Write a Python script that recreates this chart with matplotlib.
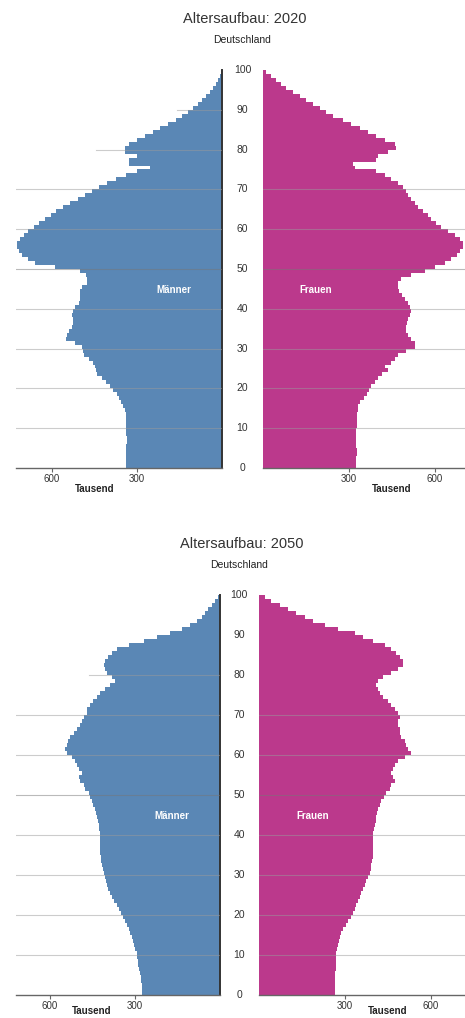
import matplotlib
matplotlib.use("Agg")
import matplotlib.pyplot as plt
import matplotlib.transforms as mtransforms
import numpy as np

plt.rcParams['font.family'] = ['Liberation Sans', 'DejaVu Sans']

ages = np.arange(100)
age_ticks = list(range(0, 101, 10))
x_ticks = [300, 600]
x_ticklabels = ['300', '600']

# Bevoelkerung je Altersjahr in Tausend
men_2020 = [338, 338, 339, 339, 338, 338, 337, 337, 338, 338,
            339, 339, 340, 340, 342, 348, 355, 362, 372, 385,
            395, 410, 425, 440, 445, 450, 455, 470, 488, 490,
            495, 520, 550, 548, 540, 530, 527, 525, 528, 526,
            520, 505, 500, 502, 500, 495, 478, 475, 480, 500,
            590, 660, 685, 705, 718, 725, 722, 712, 700, 685,
            665, 645, 625, 605, 585, 560, 535, 510, 485, 460,
            435, 405, 375, 340, 300, 254, 328, 328, 300, 342,
            342, 330, 300, 272, 245, 218, 190, 162, 140, 120,
            102, 85, 70, 55, 42, 32, 22, 14, 8, 4]
women_2020 = [326, 326, 326, 327, 327, 326, 326, 325, 326, 326,
              327, 327, 328, 329, 330, 331, 340, 352, 362, 370,
              378, 390, 401, 415, 436, 424, 448, 460, 471, 500,
              529, 529, 518, 506, 500, 500, 503, 506, 512, 518,
              512, 506, 495, 485, 475, 470, 472, 480, 518, 564,
              599, 634, 657, 675, 686, 698, 698, 686, 669, 645,
              622, 605, 587, 576, 558, 541, 529, 518, 506, 500,
              488, 471, 448, 424, 395, 320, 314, 395, 401, 436,
              465, 459, 424, 395, 366, 337, 308, 279, 244, 221,
              198, 174, 151, 128, 105, 81, 64, 46, 29, 12]
men_2050 = [274, 274, 274, 276, 278, 282, 284, 286, 289, 290,
            292, 297, 303, 306, 309, 315, 321, 327, 333, 340,
            348, 355, 362, 371, 380, 386, 392, 396, 400, 404,
            407, 411, 415, 417, 419, 421, 421, 421, 421, 421,
            421, 424, 427, 430, 433, 436, 439, 445, 450, 456,
            462, 474, 480, 492, 497, 486, 497, 503, 509, 521,
            539, 544, 539, 533, 527, 515, 503, 492, 486, 480,
            468, 466, 456, 445, 433, 421, 403, 386, 368, 380,
            397, 403, 409, 403, 392, 380, 362, 321, 268, 221,
            174, 133, 103, 80, 62, 51, 39, 27, 15, 7]
women_2050 = [264, 264, 265, 265, 266, 266, 267, 268, 269, 270,
              270, 273, 276, 279, 281, 287, 293, 302, 311, 320,
              328, 334, 340, 346, 351, 357, 363, 369, 374, 380,
              386, 389, 392, 394, 396, 398, 398, 398, 398, 398,
              398, 401, 404, 407, 409, 412, 415, 421, 427, 435,
              444, 456, 462, 473, 468, 462, 468, 473, 485, 508,
              531, 520, 514, 508, 497, 491, 491, 485, 485, 491,
              485, 473, 462, 450, 433, 421, 415, 409, 415, 433,
              462, 485, 502, 502, 491, 479, 462, 438, 398, 363,
              334, 276, 229, 188, 159, 130, 101, 72, 43, 20]

blue = '#5a87b5'
pink = '#bb398c'
W, H = 465.0, 1018.0

fig = plt.figure(figsize=(4.65, 10.18), dpi=100)


def pyramid(year, men, women, top, bot, zl, zr, grid_start, tausend_dy):
    h = (bot - top) / H
    axl = fig.add_axes([16 / W, 1 - bot / H, (zl - 16) / W, h])
    axr = fig.add_axes([zr / W, 1 - bot / H, (W - zr) / W, h])
    axl.barh(ages, men, height=1.0, align='edge', color=blue, lw=0, zorder=2)
    axr.barh(ages, women, height=1.0, align='edge', color=pink, lw=0, zorder=2)
    axl.set_xlim((zl - 16) / 85 * 300, 0)
    axr.set_xlim(0, (W - zr) / 86 * 300)
    for ax in (axl, axr):
        ax.set_ylim(0, 100)
        ax.set_yticks([])
        ax.set_xticks(x_ticks)
        ax.set_xticklabels(x_ticklabels)
        ax.tick_params(axis='x', length=3, width=0.8, pad=1.5, labelsize=7,
                       colors='#666666', labelcolor='#333333')
        for s in ('top', 'left', 'right'):
            ax.spines[s].set_visible(False)
        ax.spines['bottom'].set_color('#666666')
        ax.spines['bottom'].set_linewidth(1.0)
        tr = mtransforms.blended_transform_factory(ax.transData, ax.transAxes)
        ax.text(450, -tausend_dy / (bot - top), 'Tausend', transform=tr, ha='center',
                va='center', fontsize=7, fontweight='bold', color='#222222')
    axl.spines['right'].set_visible(True)
    axl.spines['right'].set_color('#333333')
    axl.spines['right'].set_linewidth(1.4)
    for a in age_ticks[1:-1]:
        c = '#777777' if a == 50 else '#9a9a9a'
        xs = grid_start.get(a, 0.0)
        if xs is not None:
            axl.axhline(a, xmin=xs, color=c, alpha=0.5, lw=0.8, zorder=3)
        if a <= 70:
            axr.axhline(a, color=c, alpha=0.5, lw=0.8, zorder=3)
    # Alterslabels zwischen den Haelften
    xc = (zl + zr) / 2 / W
    tr = mtransforms.blended_transform_factory(fig.transFigure, axl.transData)
    for a in age_ticks:
        fig.text(xc, a, str(a), transform=tr, ha='center', va='center',
                 fontsize=7.5, color='#333333')
    axl.text(0.765, 44.7, 'Männer', transform=mtransforms.blended_transform_factory(axl.transAxes, axl.transData),
             ha='center', va='center', fontsize=7, fontweight='bold', color='white', zorder=4)
    axr.text(0.262, 44.7, 'Frauen', transform=mtransforms.blended_transform_factory(axr.transAxes, axr.transData),
             ha='center', va='center', fontsize=7, fontweight='bold', color='white', zorder=4)
    fig.text(xc + 2 / W, 1 - (top - 51) / H, 'Altersaufbau: ' + year, ha='center',
             va='center', fontsize=10.5, color='#333333')
    fig.text(xc, 1 - (top - 30) / H, 'Deutschland', ha='center', va='center',
             fontsize=7.5, color='#222222')


pyramid('2020', men_2020, women_2020, 70, 468, 222, 263, {90: 0.78, 80: 0.39}, 21)
pyramid('2050', men_2050, women_2050, 595, 995, 219.5, 259, {90: None, 80: 0.36}, 16)

fig.savefig('out.png', dpi=100)
